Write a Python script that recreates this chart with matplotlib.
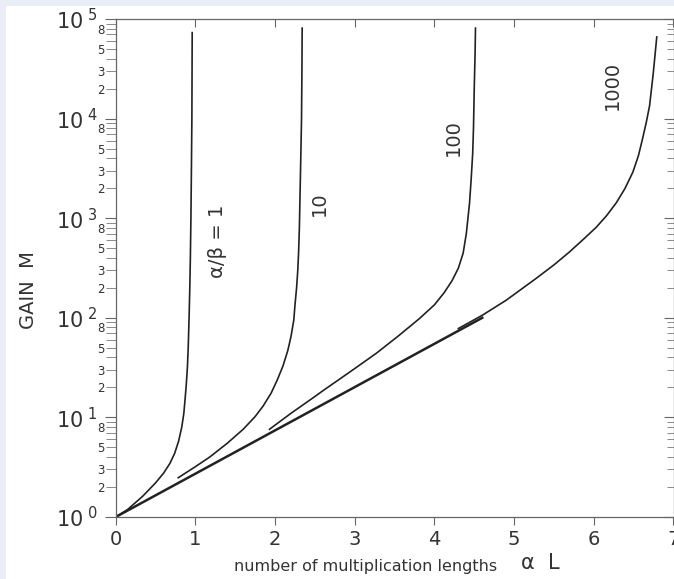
import math
import matplotlib.pyplot as plt
import matplotlib.ticker as ticker
from matplotlib.patches import Rectangle

# data: alpha*L vs gain M
base_x = [0, 4.6]
base_m = [1, 100]

ab1_x = [0, 0.15, 0.34, 0.50, 0.60, 0.68, 0.74, 0.79, 0.83, 0.855, 0.87, 0.885, 0.90,
         0.91, 0.92, 0.93, 0.937, 0.944, 0.95, 0.956, 0.96]
ab1_m = [1, 1.19, 1.62, 2.2, 2.75, 3.45, 4.36, 5.8, 8.07, 11, 15, 21, 32,
         50, 95, 200, 400, 1000, 3000, 10000, 73000]

ab10_x = [0.785, 1.0, 1.18, 1.40, 1.60, 1.75, 1.85, 1.95, 2.03, 2.10, 2.16, 2.20, 2.235,
          2.25, 2.27, 2.285, 2.295, 2.305, 2.315, 2.325, 2.332, 2.337, 2.34]
ab10_m = [2.48, 3.2, 4.0, 5.5, 7.6, 10.2, 13, 17.5, 24, 33, 47, 65, 95,
          135, 200, 300, 450, 800, 2000, 5000, 10000, 30000, 81000]

ab100_x = [1.93, 2.2, 2.44, 2.64, 2.95, 3.27, 3.55, 3.81, 4.0, 4.12, 4.22, 4.30, 4.36,
           4.40, 4.44, 4.46, 4.48, 4.49, 4.50, 4.51, 4.515]
ab100_m = [7.6, 11, 15, 19.5, 29, 44, 66, 98, 135, 178, 235, 315, 445,
           700, 1410, 2400, 4470, 8000, 21000, 45000, 81000]

ab1000_x = [4.3, 4.6, 4.9, 5.28, 5.5, 5.69, 5.87, 6.03, 6.16, 6.28, 6.39, 6.49, 6.56,
            6.61, 6.66, 6.70, 6.745, 6.79]
ab1000_m = [78, 106, 150, 250, 340, 455, 615, 810, 1060, 1420, 1980, 2900, 4250,
            6200, 9300, 13500, 28000, 66000]

curve_labels = ['α/β = 1', '10', '100', '1000']
label_pos = [(1.28, 580), (2.56, 1410), (4.24, 6500), (6.23, 21700)]

ink = '#222222'
txt = '#333333'
spine_c = '#666666'

fig = plt.figure(figsize=(6.74, 5.79), dpi=100)
fig.patch.set_facecolor('#e9edf5')
fig.add_artist(Rectangle((6 / 674, 0), 1, (579 - 6) / 579, transform=fig.transFigure,
                         facecolor='white', edgecolor='none', zorder=-10))

ax = fig.add_axes([115.7 / 674, 62 / 579, 557.8 / 674, 498 / 579])
ax.set_facecolor('white')

ax.plot(base_x, base_m, color=ink, lw=1.8)
ax.plot(ab1_x, ab1_m, color=ink, lw=1.2)
ax.plot(ab10_x, ab10_m, color=ink, lw=1.2)
ax.plot(ab100_x, ab100_m, color=ink, lw=1.2)
ax.plot(ab1000_x, ab1000_m, color=ink, lw=1.2)

for lab, (px, py) in zip(curve_labels, label_pos):
    ax.text(px, py, lab, rotation=90, ha='center', va='center', fontsize=14, color=txt)

ax.set_yscale('log')
ax.set_xlim(0, 7)
ax.set_ylim(1, 1e5)

for s in ax.spines.values():
    s.set_color(spine_c)
    s.set_linewidth(0.9)

ax.set_xticks(range(0, 8))
ax.set_xticklabels([str(i) for i in range(0, 8)], fontsize=14, color=txt)

ax.yaxis.set_major_locator(ticker.LogLocator(base=10, numticks=10))
ax.yaxis.set_major_formatter(ticker.FuncFormatter(
    lambda v, p: r'$10^{\ %d}$' % round(math.log10(v))))
ax.yaxis.set_minor_locator(ticker.LogLocator(base=10, subs=range(2, 10), numticks=20))


def minor_fmt(v, p):
    d = round(v / 10 ** math.floor(math.log10(v) + 1e-9))
    return str(d) if d in (2, 3, 5, 8) else ''


ax.yaxis.set_minor_formatter(ticker.FuncFormatter(minor_fmt))
ax.tick_params(axis='y', which='major', labelsize=15, labelcolor=txt, length=8, direction='out',
               color=spine_c, pad=5)
ax.tick_params(axis='y', which='minor', labelsize=8.5, labelcolor=txt, length=7, direction='out',
               color='#777777', pad=1)
ax.tick_params(axis='x', which='major', length=6, direction='out', color=spine_c)

# mirrored ticks on top and right point inward
sec_x = ax.secondary_xaxis('top')
sec_x.set_xticks(range(0, 8))
sec_x.tick_params(direction='in', length=6, color=spine_c, labeltop=False)
sec_x.spines['top'].set_visible(False)
sec_y = ax.secondary_yaxis('right')
sec_y.yaxis.set_major_locator(ticker.LogLocator(base=10, numticks=10))
sec_y.yaxis.set_minor_locator(ticker.LogLocator(base=10, subs=range(2, 10), numticks=20))
sec_y.tick_params(which='major', direction='in', length=7, color=spine_c, labelright=False)
sec_y.tick_params(which='minor', direction='in', length=5, color='#777777', labelright=False)
sec_y.spines['right'].set_visible(False)

fig.text(28 / 674, 1 - 290 / 579, 'GAIN  M', rotation=90, ha='center', va='center',
         fontsize=14, color=txt)
fig.text(366 / 674, 1 - 566 / 579, 'number of multiplication lengths', ha='center', va='center',
         fontsize=11.5, color=txt)
fig.text(540 / 674, 1 - 563 / 579, 'α  L', ha='center', va='center', fontsize=15, color=txt)

fig.savefig('out.png', dpi=100, facecolor=fig.get_facecolor())
